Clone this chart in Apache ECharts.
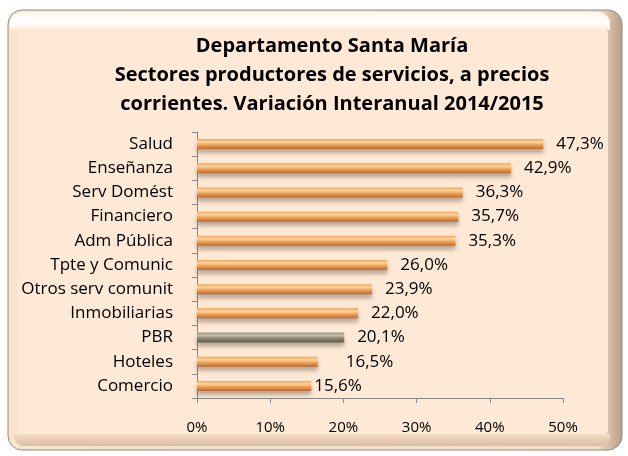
<!DOCTYPE html>
<html>
<head>
<meta charset="utf-8">
<script src="https://cdn.jsdelivr.net/npm/echarts@6/dist/echarts.min.js"></script>
<style>
  html, body { margin: 0; padding: 0; background: #fff; }
  #chart { width: 628px; height: 456px; }
</style>
</head>
<body>
<div id="chart"></div>
<script>
// Sectores (top to bottom) and interannual variation 2014/2015, in %
const sectores = ['Salud', 'Enseñanza', 'Serv Domést', 'Financiero', 'Adm Pública', 'Tpte y Comunic',
  'Otros serv comunit', 'Inmobiliarias', 'PBR', 'Hoteles', 'Comercio']
const variacion = [47.3, 42.9, 36.3, 35.7, 35.3, 26.0, 23.9, 22.0, 20.1, 16.5, 15.6]
const xTicks = [0, 10, 20, 30, 40, 50]
const tituloLineas = ['Departamento Santa María', 'Sectores productores de servicios, a precios',
  'corrientes. Variación Interanual 2014/2015']

const FONT = '"Open Sans", Lato, sans-serif'

const orange = new echarts.graphic.LinearGradient(0, 0, 0, 1, [
  { offset: 0, color: '#F2A35C' },
  { offset: 0.3, color: '#FCD597' },
  { offset: 0.6, color: '#EE9F55' },
  { offset: 1, color: '#B96A35' }
])
const grey = new echarts.graphic.LinearGradient(0, 0, 0, 1, [
  { offset: 0, color: '#9C9580' },
  { offset: 0.3, color: '#C2BCA8' },
  { offset: 0.6, color: '#8A846F' },
  { offset: 1, color: '#5F5A4A' }
])

// label distance tweaks (Excel placed a couple of them by hand)
const labelDist = { Hoteles: 28, Comercio: 3 }

const chart = echarts.init(document.getElementById('chart'))

const barData = variacion.map((v, i) => {
  const name = sectores[i]
  return {
    value: v,
    itemStyle: { color: name === 'PBR' ? grey : orange },
    label: { distance: labelDist[name] !== undefined ? labelDist[name] : 13 }
  }
})

const option = {
  animation: false,
  textStyle: { fontFamily: FONT },
  graphic: [
    {
      type: 'rect',
      shape: { x: 8, y: 10, width: 614, height: 440, r: 14 },
      style: {
        fill: new echarts.graphic.LinearGradient(0, 0, 1, 0, [
          { offset: 0, color: '#FBE3CC' },
          { offset: 0.96, color: '#F6DCC4' },
          { offset: 1, color: '#B89C86' }
        ]),
        stroke: '#8C8C8C',
        lineWidth: 1
      },
      z: -10
    },
    {
      type: 'rect',
      shape: { x: 18, y: 28, width: 590, height: 408, r: 6 },
      style: { fill: '#FDE9D6' },
      z: -9
    },
    {
      type: 'rect',
      shape: { x: 10, y: 12, width: 600, height: 18, r: [12, 12, 0, 0] },
      style: {
        fill: new echarts.graphic.LinearGradient(0, 0, 0, 1, [
          { offset: 0, color: '#FFF6EE' },
          { offset: 0.6, color: '#FFFFFF' },
          { offset: 1, color: '#FDEBDB' }
        ])
      },
      z: -8
    },
    {
      type: 'rect',
      shape: { x: 14, y: 434, width: 596, height: 12, r: [0, 0, 10, 10] },
      style: {
        fill: new echarts.graphic.LinearGradient(0, 0, 0, 1, [
          { offset: 0, color: '#F7DDC6' },
          { offset: 1, color: '#D9BDA5' }
        ])
      },
      z: -8
    },
    {
      type: 'text',
      x: 332,
      y: 32,
      style: {
        text: tituloLineas.join('\n'),
        fontFamily: FONT,
        fontSize: 20,
        fontWeight: 'bold',
        lineHeight: 29,
        fill: '#000',
        align: 'center',
        verticalAlign: 'top'
      }
    }
  ],
  grid: { left: 197, right: 65, top: 132, bottom: 58 },
  xAxis: {
    type: 'value',
    min: 0,
    max: 50,
    interval: 10,
    axisLine: { show: true, lineStyle: { color: '#868686' } },
    axisTick: { show: true, length: 5, lineStyle: { color: '#868686' } },
    splitLine: { show: false },
    axisLabel: {
      margin: 22,
      fontSize: 15,
      color: '#000',
      fontFamily: FONT,
      formatter: v => xTicks.includes(v) ? v + '%' : ''
    }
  },
  yAxis: {
    type: 'category',
    data: sectores,
    inverse: true,
    axisLine: { show: true, lineStyle: { color: '#868686' } },
    axisTick: { show: true, length: 5, lineStyle: { color: '#868686' } },
    axisLabel: { margin: 24, fontSize: 17, color: '#000', fontFamily: FONT }
  },
  series: [{
    type: 'bar',
    data: barData,
    barWidth: 10,
    itemStyle: {
      shadowColor: 'rgba(60, 40, 20, 0.35)',
      shadowBlur: 4,
      shadowOffsetY: 4
    },
    label: {
      show: true,
      position: 'right',
      fontSize: 17,
      color: '#000',
      fontFamily: FONT,
      formatter: p => p.value.toFixed(1).replace('.', ',') + '%'
    }
  }]
}

chart.setOption(option)
</script>
</body>
</html>
